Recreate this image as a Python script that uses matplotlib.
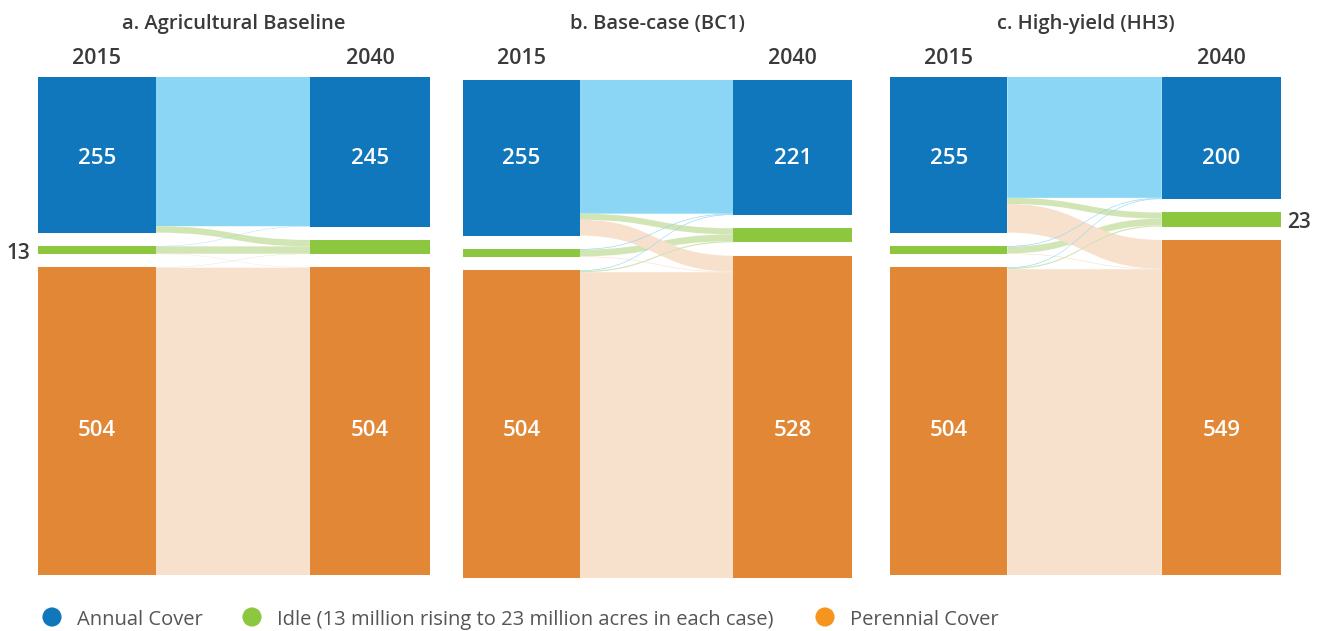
import numpy as np
import matplotlib
matplotlib.use("Agg")
from matplotlib import pyplot as plt
from matplotlib.patches import Rectangle, PathPatch
from matplotlib.path import Path

plt.rcParams['font.family'] = ['Open Sans', 'DejaVu Sans']

# land cover classes, top to bottom
classes = ['Annual Cover', 'Idle', 'Perennial Cover']
titles = ['a. Agricultural Baseline', 'b. Base-case (BC1)', 'c. High-yield (HH3)']
years = ['2015', '2040']

# million acres in 2015 and 2040 per scenario
start_2015 = [255, 13, 504]
end_2040 = {
    'a': [245, 23, 504],
    'b': [221, 23, 528],
    'c': [200, 23, 549],
}

# flows[i][j] = acres moving from class i (2015) to class j (2040), estimated
flows = {
    'a': [[244.5, 10.5, 0.0],
          [0.5, 12.0, 0.5],
          [0.0, 0.5, 503.5]],
    'b': [[219.0, 10.0, 26.0],
          [1.0, 11.0, 1.0],
          [1.0, 2.0, 501.0]],
    'c': [[198.0, 10.0, 47.0],
          [1.0, 11.0, 1.0],
          [1.0, 2.0, 501.0]],
}

# colours
node_colors = ['#1077BC', '#8DC63F', '#E18736']
flow_colors = ['#8CD6F5', '#D2E5B5', '#F7E1CC']
legend_colors = ['#1077BC', '#8DC63F', '#F7941D']
text_gray = '#3A3A3A'

GAP = 22          # vertical gap between blocks, in acre units
X_LEFT = 0.30     # right edge of 2015 bar (axes fraction)
X_RIGHT = 0.695   # left edge of 2040 bar
DY = 3            # pixel nudge so text sits on its visual centre

W, H = 1320, 631


def stack(values):
    """Return top/bottom positions of stacked blocks with gaps."""
    tops, bots = [], []
    y = 0
    for v in values:
        tops.append(y)
        bots.append(y + v)
        y += v + GAP
    return tops, bots


def band(ax, x0, x1, s0, s1, t0, t1, color, z):
    xm = (x0 + x1) / 2
    verts = [(x0, s0), (xm, s0), (xm, t0), (x1, t0),
             (x1, t1), (xm, t1), (xm, s1), (x0, s1), (x0, s0)]
    codes = [Path.MOVETO, Path.CURVE4, Path.CURVE4, Path.CURVE4,
             Path.LINETO, Path.CURVE4, Path.CURVE4, Path.CURVE4, Path.CLOSEPOLY]
    ax.add_patch(PathPatch(Path(verts, codes), facecolor=color,
                           edgecolor='none', zorder=z))


def draw_panel(ax, key, title, box):
    x0p, y0p, x1p, y1p = box
    left_vals = start_2015
    right_vals = end_2040[key]
    f = np.array(flows[key])
    total = sum(left_vals) + 2 * GAP
    scale = (y1p - y0p) / total      # pixels per acre unit

    def py(px):
        # figure pixel row -> data y of this panel
        return (px + DY - y0p) / scale

    lt, lb = stack(left_vals)
    rt, rb = stack(right_vals)

    # flows: outgoing ordered by target, incoming ordered by source
    out_pos = list(lt)
    in_pos = list(rt)
    segs = []
    for i in range(3):
        for j in range(3):
            v = f[i, j]
            s0 = out_pos[i]
            out_pos[i] += v
            segs.append((i, j, v, s0))
    in_start = {}
    for j in range(3):
        for i in range(3):
            in_start[(i, j)] = in_pos[j]
            in_pos[j] += f[i, j]

    # straight flows first, then crossing flows on top
    for i, j, v, s0 in sorted(segs, key=lambda s: s[0] != s[1]):
        if v <= 0:
            continue
        t0 = in_start[(i, j)]
        z = 1 if i == j else 2
        band(ax, X_LEFT, X_RIGHT, s0, s0 + v, t0, t0 + v, flow_colors[j], z)

    # blocks
    label_rows = {0: py(155), 2: py(428)}
    for k in range(3):
        ax.add_patch(Rectangle((0, lt[k]), X_LEFT, left_vals[k],
                               facecolor=node_colors[k], edgecolor='none', zorder=3))
        ax.add_patch(Rectangle((X_RIGHT, rt[k]), 1 - X_RIGHT, right_vals[k],
                               facecolor=node_colors[k], edgecolor='none', zorder=3))
        if k in label_rows:
            ax.text(X_LEFT / 2, label_rows[k], str(left_vals[k]), color='white',
                    fontsize=16, fontweight='semibold', ha='center', va='center', zorder=4)
            ax.text((1 + X_RIGHT) / 2, label_rows[k], str(right_vals[k]), color='white',
                    fontsize=16, fontweight='semibold', ha='center', va='center', zorder=4)

    ax.set_xlim(0, 1)
    ax.set_ylim(total, 0)
    ax.axis('off')

    ax.text(X_LEFT / 2, py(56), years[0], ha='center', va='center',
            fontsize=15.5, fontweight='semibold', color=text_gray)
    ax.text((1 + X_RIGHT) / 2, py(56), years[1], ha='center', va='center',
            fontsize=15.5, fontweight='semibold', color=text_gray)
    ax.text(0.5, py(21), title, ha='center', va='center',
            fontsize=14.5, fontweight='semibold', color=text_gray)
    return lt, lb, rt, rb, scale


fig = plt.figure(figsize=(W / 100, H / 100), dpi=100)

# panel boxes in pixels: left, top, right, bottom
boxes = [(38, 77, 430, 575), (463, 80, 852, 578), (890, 77, 1281, 575)]
keys = ['a', 'b', 'c']

geo = []
for box, key, title in zip(boxes, keys, titles):
    x0, y0, x1, y1 = box
    ax = fig.add_axes([x0 / W, 1 - y1 / H, (x1 - x0) / W, (y1 - y0) / H])
    geo.append((ax, draw_panel(ax, key, title, box)))

# idle labels outside the panels
ax_a, (lt, lb, rt, rb, sc) = geo[0]
ax_a.text(-0.02, (lt[1] + lb[1]) / 2 + DY / sc, str(start_2015[1]), ha='right',
          va='center', fontsize=15, fontweight='semibold', color=text_gray, clip_on=False)
ax_c, (lt, lb, rt, rb, sc) = geo[2]
ax_c.text(1.015, (rt[1] + rb[1]) / 2 + DY / sc, str(end_2040['c'][1]), ha='left',
          va='center', fontsize=15, fontweight='semibold', color=text_gray, clip_on=False)

# legend row
leg = fig.add_axes([0, 0, 1, 1])
leg.set_xlim(0, W)
leg.set_ylim(H, 0)
leg.axis('off')
leg_labels = ['Annual Cover',
              'Idle (13 million rising to 23 million acres in each case)',
              'Perennial Cover']
leg_x = [52, 252, 825]
for x, lab, c in zip(leg_x, leg_labels, legend_colors):
    leg.scatter([x], [617], s=190, color=c, edgecolor='none')
    leg.text(x + 25, 617 + DY, lab, ha='left', va='center', fontsize=14.5, color='#555555')

fig.savefig('out.png', dpi=100)
